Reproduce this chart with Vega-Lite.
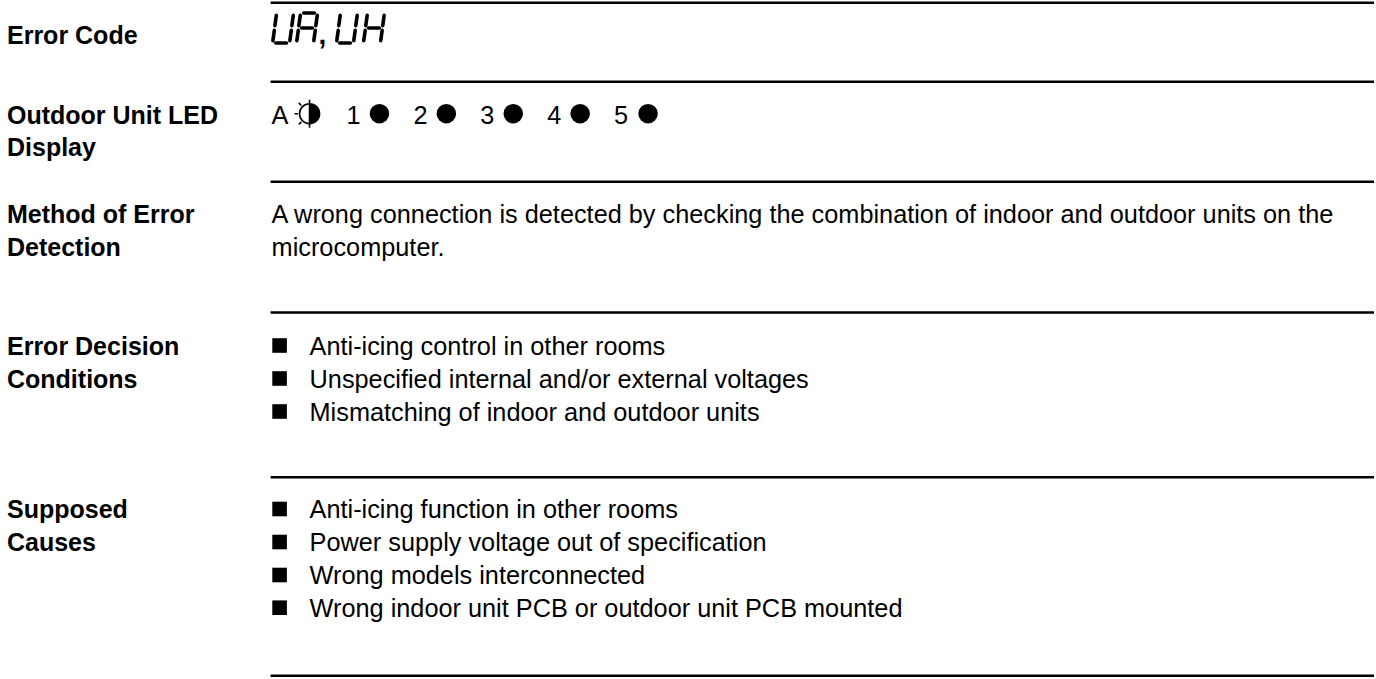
{
  "$schema": "https://vega.github.io/schema/vega-lite/v6.json",
  "width": 1376,
  "height": 679,
  "autosize": {"type": "fit", "contains": "padding"},
  "padding": 0,
  "background": "white",
  "config": {"view": {"stroke": null}},
  "datasets": {
    "rules": [{"y": 2.7}, {"y": 81.7}, {"y": 181.7}, {"y": 312.5}, {"y": 477.3}, {"y": 675.7}],
    "labels": [
      {"text": "Error Code", "x": 7, "y": 44},
      {"text": "Outdoor Unit LED", "x": 7, "y": 123.5},
      {"text": "Display", "x": 7, "y": 156.2},
      {"text": "Method of Error", "x": 7, "y": 223.3},
      {"text": "Detection", "x": 7, "y": 256},
      {"text": "Error Decision", "x": 7, "y": 354.5},
      {"text": "Conditions", "x": 7, "y": 387.5},
      {"text": "Supposed", "x": 7, "y": 518},
      {"text": "Causes", "x": 7, "y": 551}
    ],
    "body": [
      {"text": "A wrong connection is detected by checking the combination of indoor and outdoor units on the", "x": 272, "y": 223.3},
      {"text": "microcomputer.", "x": 272, "y": 256},
      {"text": "Anti-icing control in other rooms", "x": 310, "y": 354.5},
      {"text": "Unspecified internal and/or external voltages", "x": 310, "y": 387.5},
      {"text": "Mismatching of indoor and outdoor units", "x": 310, "y": 420.5},
      {"text": "Anti-icing function in other rooms", "x": 310, "y": 518},
      {"text": "Power supply voltage out of specification", "x": 310, "y": 551},
      {"text": "Wrong models interconnected", "x": 310, "y": 584},
      {"text": "Wrong indoor unit PCB or outdoor unit PCB mounted", "x": 310, "y": 616.7},
      {"text": "A", "x": 272, "y": 123.5},
      {"text": "1", "x": 347, "y": 123.5},
      {"text": "2", "x": 414, "y": 123.5},
      {"text": "3", "x": 481, "y": 123.5},
      {"text": "4", "x": 548, "y": 123.5},
      {"text": "5", "x": 615, "y": 123.5}
    ],
    "squares": [
      {"x": 280, "y": 345.5}, {"x": 280, "y": 378.5}, {"x": 280, "y": 411.5},
      {"x": 280, "y": 509}, {"x": 280, "y": 542}, {"x": 280, "y": 575}, {"x": 280, "y": 607.7}
    ],
    "dots": [
      {"led": 1, "x": 380, "y": 113.7}, {"led": 2, "x": 447, "y": 113.7}, {"led": 3, "x": 514, "y": 113.7},
      {"led": 4, "x": 581, "y": 113.7}, {"led": 5, "x": 649, "y": 113.7}
    ],
    "blink": [{"led": "A", "x": 310, "y": 113.7}],
    "segments": [
      {"glyph": "U1", "x": 293.7, "y": 15.4, "x2": 292.3, "y2": 25.6},
      {"glyph": "U1", "x": 291.7, "y": 30.4, "x2": 290.3, "y2": 40.6},
      {"glyph": "U1", "x": 276.1, "y": 43, "x2": 286.9, "y2": 43},
      {"glyph": "U1", "x": 274.7, "y": 30.4, "x2": 273.3, "y2": 40.6},
      {"glyph": "U1", "x": 276.7, "y": 15.4, "x2": 275.3, "y2": 25.6},
      {"glyph": "A", "x": 304.1, "y": 13, "x2": 314.9, "y2": 13},
      {"glyph": "A", "x": 317.7, "y": 15.4, "x2": 316.3, "y2": 25.6},
      {"glyph": "A", "x": 315.7, "y": 30.4, "x2": 314.3, "y2": 40.6},
      {"glyph": "A", "x": 298.7, "y": 30.4, "x2": 297.3, "y2": 40.6},
      {"glyph": "A", "x": 300.7, "y": 15.4, "x2": 299.3, "y2": 25.6},
      {"glyph": "A", "x": 302.1, "y": 28, "x2": 312.9, "y2": 28},
      {"glyph": "U2", "x": 357.7, "y": 15.4, "x2": 356.3, "y2": 25.6},
      {"glyph": "U2", "x": 355.7, "y": 30.4, "x2": 354.3, "y2": 40.6},
      {"glyph": "U2", "x": 340.1, "y": 43, "x2": 350.9, "y2": 43},
      {"glyph": "U2", "x": 338.7, "y": 30.4, "x2": 337.3, "y2": 40.6},
      {"glyph": "U2", "x": 340.7, "y": 15.4, "x2": 339.3, "y2": 25.6},
      {"glyph": "H", "x": 384.7, "y": 15.4, "x2": 383.3, "y2": 25.6},
      {"glyph": "H", "x": 382.7, "y": 30.4, "x2": 381.3, "y2": 40.6},
      {"glyph": "H", "x": 365.7, "y": 30.4, "x2": 364.3, "y2": 40.6},
      {"glyph": "H", "x": 367.7, "y": 15.4, "x2": 366.3, "y2": 25.6},
      {"glyph": "H", "x": 369.1, "y": 28, "x2": 379.9, "y2": 28}
    ],
    "comma": [{"text": ",", "x": 319, "y": 44}]
  },
  "layer": [
    {
      "data": {"name": "rules"},
      "mark": {"type": "rule", "color": "black", "strokeWidth": 2.4},
      "encoding": {
        "x": {"datum": 271, "type": "quantitative", "scale": {"domain": [0, 1376], "nice": false, "zero": false}, "axis": null},
        "x2": {"datum": 1376},
        "y": {"field": "y", "type": "quantitative", "scale": {"domain": [0, 679], "nice": false, "zero": false, "reverse": true}, "axis": null}
      }
    },
    {
      "data": {"name": "labels"},
      "mark": {"type": "text", "font": "Liberation Sans", "fontWeight": "bold", "fontSize": 25, "align": "left", "baseline": "alphabetic", "color": "black"},
      "encoding": {
        "x": {"field": "x", "type": "quantitative", "scale": {"domain": [0, 1376], "nice": false, "zero": false}, "axis": null},
        "y": {"field": "y", "type": "quantitative", "scale": {"domain": [0, 679], "nice": false, "zero": false, "reverse": true}, "axis": null},
        "text": {"field": "text"}
      }
    },
    {
      "data": {"name": "body"},
      "mark": {"type": "text", "font": "Liberation Sans", "fontSize": 25.3, "align": "left", "baseline": "alphabetic", "color": "black"},
      "encoding": {
        "x": {"field": "x", "type": "quantitative", "scale": {"domain": [0, 1376], "nice": false, "zero": false}, "axis": null},
        "y": {"field": "y", "type": "quantitative", "scale": {"domain": [0, 679], "nice": false, "zero": false, "reverse": true}, "axis": null},
        "text": {"field": "text"}
      }
    },
    {
      "data": {"name": "squares"},
      "mark": {"type": "point", "shape": "square", "filled": true, "size": 213, "color": "black", "opacity": 1},
      "encoding": {
        "x": {"field": "x", "type": "quantitative", "scale": {"domain": [0, 1376], "nice": false, "zero": false}, "axis": null},
        "y": {"field": "y", "type": "quantitative", "scale": {"domain": [0, 679], "nice": false, "zero": false, "reverse": true}, "axis": null}
      }
    },
    {
      "data": {"name": "dots"},
      "mark": {"type": "point", "shape": "circle", "filled": true, "size": 380, "color": "black", "opacity": 1},
      "encoding": {
        "x": {"field": "x", "type": "quantitative", "scale": {"domain": [0, 1376], "nice": false, "zero": false}, "axis": null},
        "y": {"field": "y", "type": "quantitative", "scale": {"domain": [0, 679], "nice": false, "zero": false, "reverse": true}, "axis": null}
      }
    },
    {
      "data": {"name": "blink"},
      "mark": {"type": "point", "shape": "M-1,0A1,1,0,1,1,1,0A1,1,0,1,1,-1,0ZM0,-1.4L0,1.4M-1.15,0L-1.5,0M-0.82,-0.82L-1.08,-1.08M-0.82,0.82L-1.08,1.08", "filled": false, "size": 400, "color": "black", "strokeWidth": 1.6, "opacity": 1},
      "encoding": {
        "x": {"field": "x", "type": "quantitative", "scale": {"domain": [0, 1376], "nice": false, "zero": false}, "axis": null},
        "y": {"field": "y", "type": "quantitative", "scale": {"domain": [0, 679], "nice": false, "zero": false, "reverse": true}, "axis": null}
      }
    },
    {
      "data": {"name": "blink"},
      "mark": {"type": "point", "shape": "M0,-1A1,1,0,0,1,0,1Z", "filled": true, "size": 400, "color": "black", "opacity": 1},
      "encoding": {
        "x": {"field": "x", "type": "quantitative", "scale": {"domain": [0, 1376], "nice": false, "zero": false}, "axis": null},
        "y": {"field": "y", "type": "quantitative", "scale": {"domain": [0, 679], "nice": false, "zero": false, "reverse": true}, "axis": null}
      }
    },
    {
      "data": {"name": "segments"},
      "mark": {"type": "rule", "color": "black", "strokeWidth": 3.6, "strokeCap": "round"},
      "encoding": {
        "x": {"field": "x", "type": "quantitative", "scale": {"domain": [0, 1376], "nice": false, "zero": false}, "axis": null},
        "y": {"field": "y", "type": "quantitative", "scale": {"domain": [0, 679], "nice": false, "zero": false, "reverse": true}, "axis": null},
        "x2": {"field": "x2"},
        "y2": {"field": "y2"}
      }
    },
    {
      "data": {"name": "comma"},
      "mark": {"type": "text", "font": "Liberation Sans", "fontWeight": "bold", "fontSize": 28, "align": "left", "baseline": "alphabetic", "color": "black"},
      "encoding": {
        "x": {"field": "x", "type": "quantitative", "scale": {"domain": [0, 1376], "nice": false, "zero": false}, "axis": null},
        "y": {"field": "y", "type": "quantitative", "scale": {"domain": [0, 679], "nice": false, "zero": false, "reverse": true}, "axis": null},
        "text": {"field": "text"}
      }
    }
  ]
}
